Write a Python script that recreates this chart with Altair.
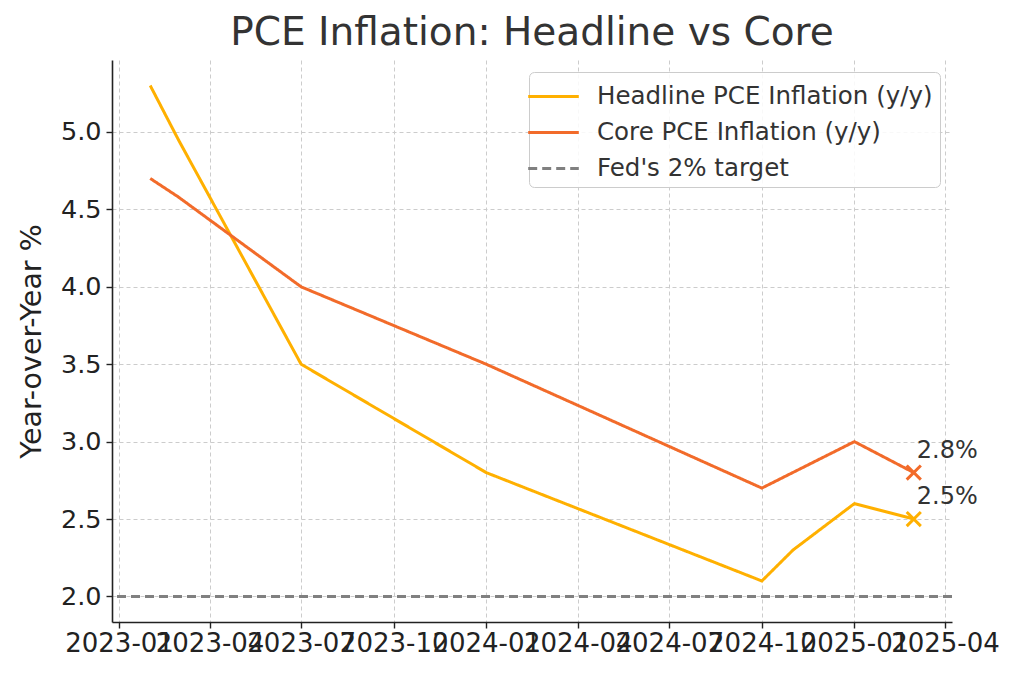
import altair as alt
import pandas as pd

# ---- data ----
headline_dates = ["2023-02-01", "2023-03-01", "2023-07-01", "2024-01-01",
                  "2024-10-01", "2024-11-01", "2025-01-01", "2025-03-01"]
headline_vals = [5.3, 4.95, 3.5, 2.8, 2.1, 2.3, 2.6, 2.5]

core_dates = ["2023-02-01", "2023-03-01", "2023-07-01", "2024-01-01",
              "2024-10-01", "2025-01-01", "2025-03-01"]
core_vals = [4.7, 4.58, 4.0, 3.5, 2.7, 3.0, 2.8]

target_val = 2.0

series_names = ["Headline PCE Inflation (y/y)", "Core PCE Inflation (y/y)", "Fed's 2% target"]
series_colors = ["#FFB000", "#F26B2A", "#808080"]
series_dashes = [[1, 0], [1, 0], [9, 5]]

tick_dates = ["2023-01-01", "2023-04-01", "2023-07-01", "2023-10-01", "2024-01-01",
              "2024-04-01", "2024-07-01", "2024-10-01", "2025-01-01", "2025-04-01"]
y_ticks = [2.0, 2.5, 3.0, 3.5, 4.0, 4.5, 5.0]

# ---- tables ----
df_lines = pd.concat([
    pd.DataFrame({"date": headline_dates, "value": headline_vals, "series": series_names[0]}),
    pd.DataFrame({"date": core_dates, "value": core_vals, "series": series_names[1]}),
])
df_target = pd.DataFrame({"value": [target_val], "series": [series_names[2]]})
df_last = pd.DataFrame({
    "date": [headline_dates[-1], core_dates[-1]],
    "value": [headline_vals[-1], core_vals[-1]],
    "series": [series_names[0], series_names[1]],
})
df_last["label"] = [f"{v:.1f}%" for v in df_last["value"]]

def dt(s):
    y, m, d = (int(p) for p in s.split("-"))
    return alt.DateTime(year=y, month=m, date=d, utc=True)

x_enc = alt.X(
    "date:T",
    scale=alt.Scale(type="utc", domain=[dt("2022-12-25"), dt("2025-04-08")], nice=False),
    axis=alt.Axis(
        title=None,
        values=[dt(s) for s in tick_dates],
        labelExpr="utcFormat(datum.value, '%Y-%m')",
        labelOverlap=False,
        labelFlush=False,
        labelBound=False,
        labelPadding=2,
        labelFontSize=26,
    ),
)
y_enc = alt.Y(
    "value:Q",
    scale=alt.Scale(domain=[1.835, 5.465], nice=False, zero=False),
    axis=alt.Axis(
        title="Year-over-Year %",
        values=y_ticks,
        format=".1f",
        titleFontSize=28.5,
        titlePadding=14,
        labelPadding=5,
    ),
)

legend = alt.Legend(
    title=None,
    orient="top-right",
    offset=12,
    symbolType="M-1.6,0L1.6,0",
    symbolSize=1000,
    symbolStrokeWidth=3,
    labelFontSize=24.5,
    labelColor="#333333",
    labelFont="DejaVu Sans",
    labelLimit=500,
    labelOffset=26,
    rowPadding=7,
    padding=7,
    fillColor="rgba(255,255,255,0.85)",
    strokeColor="#cccccc",
    cornerRadius=5,
)

color_enc = alt.Color("series:N", scale=alt.Scale(domain=series_names, range=series_colors), legend=legend)
dash_enc = alt.StrokeDash("series:N", scale=alt.Scale(domain=series_names, range=series_dashes), legend=legend)

target = alt.Chart(df_target).mark_rule(strokeWidth=3).encode(
    y=alt.Y("value:Q"), color=color_enc, strokeDash=dash_enc
)
lines = alt.Chart(df_lines).mark_line(strokeWidth=3).encode(
    x=x_enc, y=y_enc, color=color_enc, strokeDash=dash_enc
)
points = alt.Chart(df_last).mark_point(
    shape="M-1,-1L1,1M-1,1L1,-1", filled=False, size=200, strokeWidth=3, opacity=1
).encode(x="date:T", y="value:Q", color=color_enc)
labels = alt.Chart(df_last).mark_text(
    align="left", baseline="alphabetic", dx=3, dy=-15, fontSize=24, color="#333333", font="DejaVu Sans"
).encode(x="date:T", y="value:Q", text="label:N")

chart = alt.layer(lines, target, points, labels).properties(
    width=840,
    height=562,
    title=alt.TitleParams("PCE Inflation: Headline vs Core", fontSize=39, font="DejaVu Sans",
                          fontWeight="normal", color="#333333", offset=7, anchor="middle"),
    autosize=alt.AutoSizeParams(type="none"),
    padding={"left": 104, "top": 52, "right": 60, "bottom": 50},
).configure_view(stroke=None).configure_axis(
    labelFont="DejaVu Sans",
    titleFont="DejaVu Sans",
    labelFontSize=25.5,
    labelColor="#222222",
    titleColor="#222222",
    titleFontWeight="normal",
    domainColor="#222222",
    domainWidth=1.6,
    tickColor="#222222",
    tickWidth=1.4,
    tickSize=6,
    gridColor="#cccccc",
    gridDash=[4, 3],
    gridWidth=1,
)

chart.save("out.html", embed_options={"renderer": "svg", "actions": False})
